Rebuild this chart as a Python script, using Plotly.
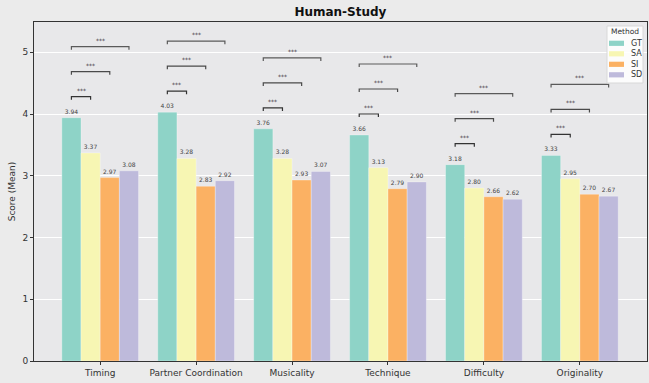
import plotly.graph_objects as go

categories = ["Timing", "Partner Coordination", "Musicality", "Technique", "Difficulty", "Originality"]
methods = ["GT", "SA", "SI", "SD"]
gt = [3.94, 4.03, 3.76, 3.66, 3.18, 3.33]
sa = [3.37, 3.28, 3.28, 3.13, 2.80, 2.95]
si = [2.97, 2.83, 2.93, 2.79, 2.66, 2.70]
sd = [3.08, 2.92, 3.07, 2.90, 2.62, 2.67]
colors = ["#8ed3c7", "#f7f6b3", "#fbb163", "#bebadb"]
sig_labels = ["***", "***", "***"]

series = [gt, sa, si, sd]
xidx = list(range(len(categories)))

W, H = 649, 383
ML, MR, MT, MB = 34, 2, 22, 22
PW, PH = W - ML - MR, H - MT - MB


def px(x):
    return (x - ML) / PW


def py(y):
    return (H - MB - y) / PH


fig = go.Figure()
for name, vals, col in zip(methods, series, colors):
    fig.add_trace(go.Bar(
        x=xidx, y=vals, name=name,
        marker=dict(color=col, line=dict(color="rgba(255,255,255,0.5)", width=0.6)),
        text=[f"{v:.2f}" for v in vals], textposition="outside",
        textfont=dict(size=6, color="#444", family="DejaVu Sans"),
        outsidetextfont=dict(size=6, color="#444", family="DejaVu Sans"),
        cliponaxis=False, showlegend=False,
    ))

offsets = [-0.3, -0.1, 0.1, 0.3]
bracket_colors = ["#333333", "#4a4a4a", "#5a5a5a"]
annotations = []
shapes = []
for i in xidx:
    base = gt[i]
    for k in range(3):
        y = base + 0.34 + 0.405 * k
        x0 = i + offsets[0]
        x1 = i + offsets[k + 1]
        fig.add_trace(go.Scatter(
            x=[x0, x0, x1, x1], y=[y - 0.05, y, y, y - 0.05], mode="lines",
            line=dict(color=bracket_colors[k], width=1.2), showlegend=False, hoverinfo="skip",
        ))
        annotations.append(dict(
            x=(x0 + x1) / 2, y=y, xref="x", yref="y", text=sig_labels[k], showarrow=False,
            yanchor="bottom", yshift=1, font=dict(size=6, color="#333", family="DejaVu Sans"),
        ))

# custom compact legend (matplotlib style)
shapes.append(dict(type="rect", xref="paper", yref="paper", x0=px(607), x1=px(643), y0=py(83), y1=py(26),
                   fillcolor="rgba(255,255,255,0.85)", line=dict(color="#d8d8d8", width=1), layer="above"))
annotations.append(dict(xref="paper", yref="paper", x=px(625), y=py(31.5), text="Method", showarrow=False,
                        xanchor="center", yanchor="middle", font=dict(size=7.5, color="#333")))
for j, (name, col) in enumerate(zip(methods, colors)):
    yc = 43.3 + j * 10.5
    shapes.append(dict(type="rect", xref="paper", yref="paper", x0=px(609), x1=px(624),
                       y0=py(yc + 2.6), y1=py(yc - 2.6), fillcolor=col, line=dict(width=0), layer="above"))
    annotations.append(dict(xref="paper", yref="paper", x=px(629), y=py(yc), text=name, showarrow=False,
                            xanchor="left", yanchor="middle", font=dict(size=8, color="#333")))

fig.update_layout(
    width=W, height=H,
    margin=dict(l=ML, r=MR, t=MT, b=MB, autoexpand=False),
    paper_bgcolor="#ebebeb", plot_bgcolor="#e8e8ea",
    barmode="group", bargap=0.2, bargroupgap=0,
    font=dict(family="DejaVu Sans", size=9, color="#333"),
    title=dict(text="<b>Human-Study</b>", x=0.5245, xanchor="center", y=0.968, yanchor="middle",
               font=dict(size=12, color="#111", family="DejaVu Sans")),
    annotations=annotations,
    shapes=shapes,
    showlegend=False,
)
fig.update_xaxes(
    range=[-0.69, 5.70], tickvals=xidx, ticktext=categories,
    showgrid=False, showline=True, linecolor="#333", linewidth=1, mirror=True,
    ticks="outside", ticklen=3, tickcolor="#333", tickfont=dict(size=9, color="#333"),
    zeroline=False,
)
fig.update_yaxes(
    range=[0, 5.49], tickvals=[0, 1, 2, 3, 4, 5],
    showgrid=True, gridcolor="#ffffff", gridwidth=1,
    showline=True, linecolor="#333", linewidth=1, mirror=True,
    ticks="outside", ticklen=3, tickcolor="#333", tickfont=dict(size=9, color="#333"),
    title=dict(text="Score (Mean)", font=dict(size=9, color="#333"), standoff=5),
    zeroline=False,
)

fig.write_html("out.html", config={"displayModeBar": False},
               post_script="document.body.style.margin='0px';document.body.style.background='#ebebeb';")
